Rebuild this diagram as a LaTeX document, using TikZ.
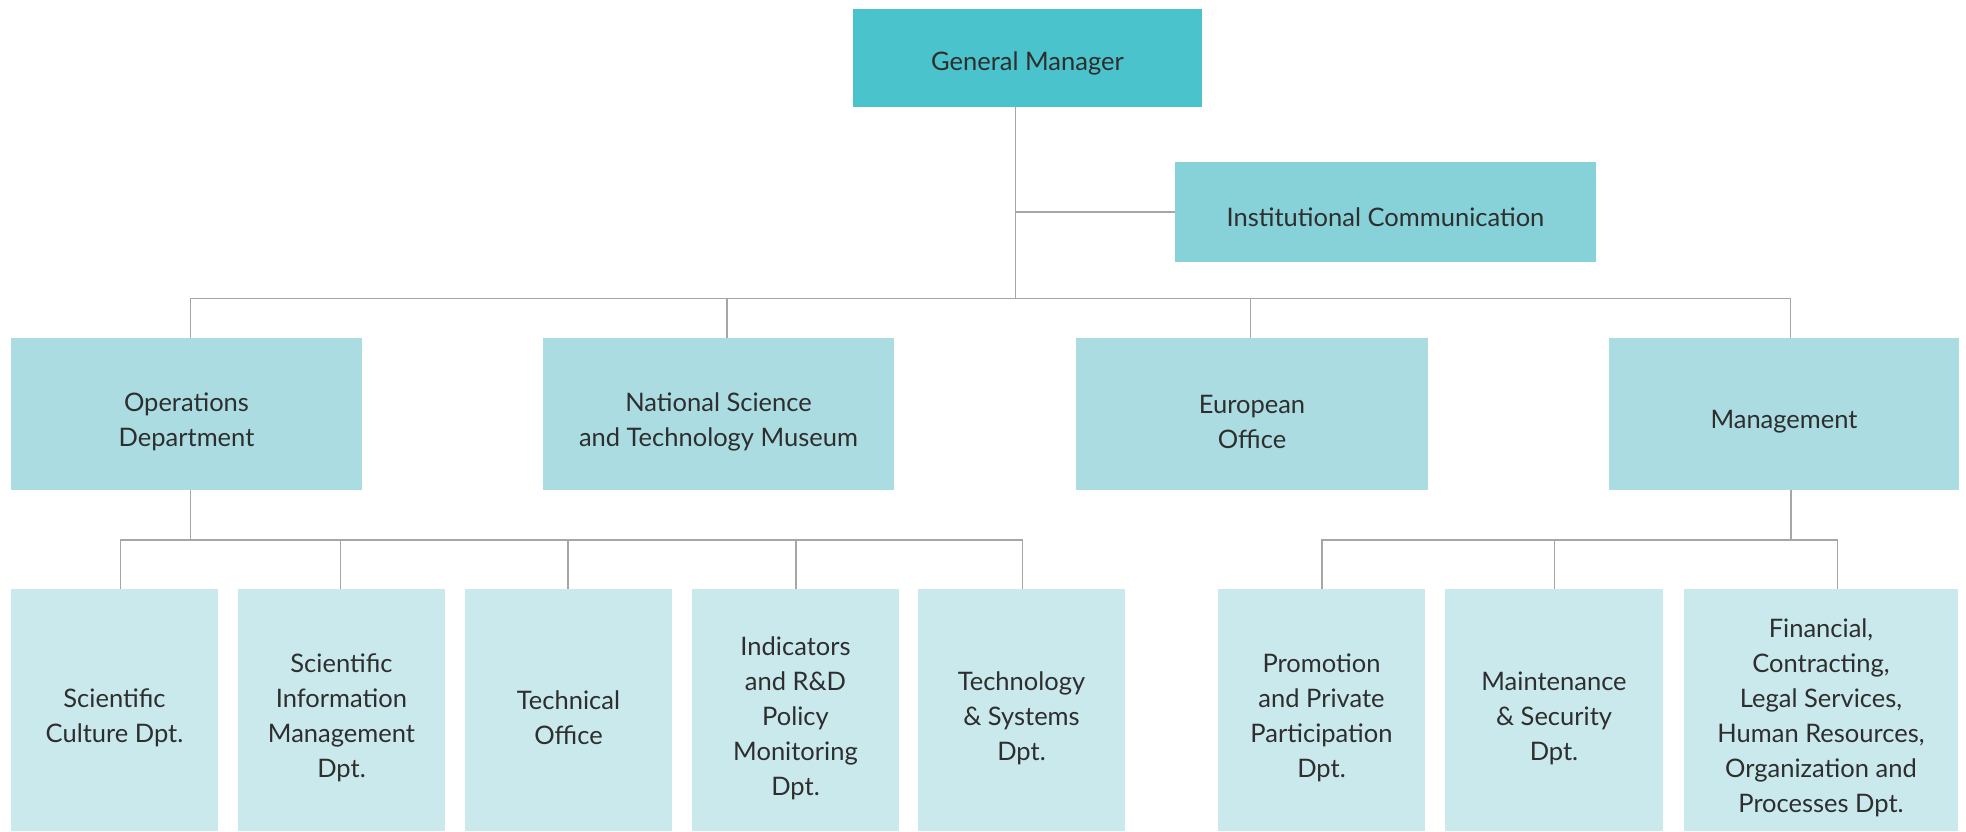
\documentclass[tikz,border=0pt]{standalone}
\usepackage{fontspec}
\setmainfont{Lato}
\definecolor{cGM}{HTML}{4BC3CC}
\definecolor{cIC}{HTML}{87D1D9}
\definecolor{cLtwo}{HTML}{AADCE2}
\definecolor{cLthree}{HTML}{CAE9EC}
\definecolor{lineC}{HTML}{A6A6A6}
\definecolor{txtC}{HTML}{2E2E2E}
\begin{document}
\begin{tikzpicture}[x=1pt,y=-1pt,
  orgbox/.style={inner sep=0pt, draw=none, minimum width=#1},
  lvone/.style={orgbox=#1, minimum height=98},
  lvic/.style={orgbox=#1, minimum height=100},
  lvtwo/.style={orgbox=#1, minimum height=152, fill=cLtwo},
  lvthree/.style={orgbox=#1, minimum height=242, fill=cLthree},
  txtlab/.style={label={[align=center, text=txtC, font=\fontsize{25.5}{35}\selectfont, yshift=-8pt]center:{#1}}},
  toplab/.style={label={[align=center, text=txtC, font=\fontsize{25.5}{35}\selectfont, yshift=-5pt]center:{#1}}},
  conn/.style={draw=lineC, line width=1.3pt}
]
\useasboundingbox (0,0) rectangle (1966,831);

% level 1
\node[lvone=349, fill=cGM, toplab={General Manager}] (gm) at (1027.5,58) {};
\node[lvic=421, fill=cIC, toplab={Institutional Communication}] (ic) at (1385.5,212) {};

% level 2
\node[lvtwo=351, txtlab={Operations\\Department}] (ops) at (186.5,414) {};
\node[lvtwo=351, txtlab={National Science\\and Technology Museum}] (nstm) at (718.5,414) {};
\node[lvtwo=352, txtlab={European\\Office}] (euro) at (1252,414) {};
\node[lvtwo=350, txtlab={Management}] (mgmt) at (1784,414) {};

% level 3
\node[lvthree=207, txtlab={Scientific\\Culture Dpt.}] (sc) at (114.5,710) {};
\node[lvthree=207, txtlab={Scientific\\Information\\Management\\Dpt.}] (sim) at (341.5,710) {};
\node[lvthree=207, txtlab={Technical\\Office}] (to) at (568.5,710) {};
\node[lvthree=207, txtlab={Indicators\\and R\&D\\Policy\\Monitoring\\Dpt.}] (ind) at (795.5,710) {};
\node[lvthree=207, txtlab={Technology\\\& Systems\\Dpt.}] (ts) at (1021.5,710) {};
\node[lvthree=207, txtlab={Promotion\\and Private\\Participation\\Dpt.}] (pp) at (1321.5,710) {};
\node[lvthree=218, txtlab={Maintenance\\\& Security\\Dpt.}] (ms) at (1554,710) {};
\node[lvthree=274, txtlab={Financial,\\Contracting,\\Legal Services,\\Human Resources,\\Organization and\\Processes Dpt.}] (fin) at (1821,710) {};

% junction coordinates
\coordinate (busT) at (1015.5,298.7);
\coordinate (icJ) at (1015.5,212);
\coordinate (busL) at (190.6,298.7);
\coordinate (busR) at (1790.7,298.7);
\coordinate (nstmJ) at (727,298.7);
\coordinate (euroJ) at (1250.3,298.7);
\coordinate (opsJ) at (190.6,540);
\coordinate (lbL) at (120.5,540);
\coordinate (lbR) at (1022.7,540);
\coordinate (simJ) at (340.6,540);
\coordinate (toJ) at (568,540);
\coordinate (indJ) at (796,540);
\coordinate (mgJ) at (1791,540);
\coordinate (rbL) at (1322,540);
\coordinate (rbR) at (1837.7,540);
\coordinate (msJ) at (1554.7,540);

% connectors level 1
\draw[conn] (gm.south -| busT) -- (busT);
\draw[conn] (icJ) -- (ic.west);
\draw[conn] (ops.north -| busL) -- (busL) -- (busR) -- (mgmt.north -| busR);
\draw[conn] (nstmJ) -- (nstm.north -| nstmJ);
\draw[conn] (euroJ) -- (euro.north -| euroJ);

% connectors operations
\draw[conn] (ops.south -| opsJ) -- (opsJ);
\draw[conn] (sc.north -| lbL) -- (lbL) -- (lbR) -- (ts.north -| lbR);
\draw[conn] (simJ) -- (sim.north -| simJ);
\draw[conn] (toJ) -- (to.north -| toJ);
\draw[conn] (indJ) -- (ind.north -| indJ);

% connectors management
\draw[conn] (mgmt.south -| mgJ) -- (mgJ);
\draw[conn] (pp.north -| rbL) -- (rbL) -- (rbR) -- (fin.north -| rbR);
\draw[conn] (msJ) -- (ms.north -| msJ);
\end{tikzpicture}
\end{document}
